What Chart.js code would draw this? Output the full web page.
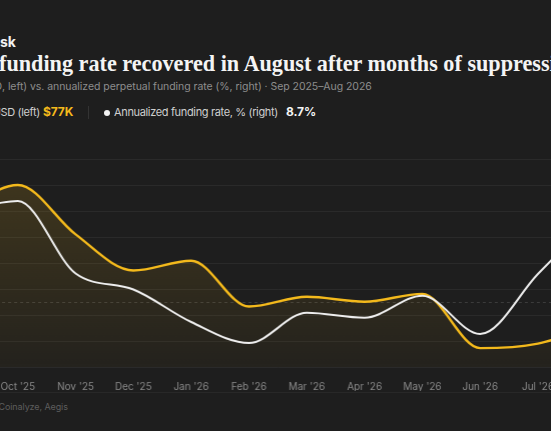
<!DOCTYPE html>
<html>
<head>
<meta charset="utf-8">
<script src="https://cdn.jsdelivr.net/npm/chart.js@4.4.1/dist/chart.umd.min.js"></script>
<style>
    html, body { margin: 0; padding: 0; width: 551px; height: 431px; overflow: hidden; background: #1e1e1e; }
    body { position: relative; font-family: Inter, "Noto Sans", sans-serif; }
    .ln { position: absolute; white-space: nowrap; }
    /* hidden head of a cropped line, kept as text but pushed off the left edge */
    .pre { position: absolute; right: 100%; top: 0; white-space: pre; }
    #brand { top: 35px; left: 0; font-size: 14px; line-height: 14px; font-weight: 700; color: #f2f2f2; }
    #title { top: 51.5px; left: -1px; font-family: "Liberation Serif", serif; font-size: 22.2px; line-height: 24px; font-weight: 700; color: #f4f4f4; }
    #sub { top: 79.7px; left: 2px; font-size: 10.5px; line-height: 13px; letter-spacing: -0.05px; color: #8d8d8d; }
    .leg { top: 105.3px; font-size: 11px; line-height: 14px; letter-spacing: -0.35px; color: #cfcfcf; }
    .val { font-weight: 700; font-size: 12px; letter-spacing: -0.1px; top: 104.8px; }
    #sep { position: absolute; left: 88px; top: 106px; width: 1px; height: 13px; background: #333; }
    #dot { position: absolute; left: 103.5px; top: 110px; width: 6px; height: 6px; border-radius: 50%; background: #f2f2f2; }
    #chart-wrap { position: absolute; left: -79.7px; top: 151px; width: 714.7px; height: 240px; }
    #rule { position: absolute; left: 0; top: 392px; width: 551px; height: 1px; background: #282828; }
    #source { top: 400.5px; left: -1.5px; font-size: 9px; line-height: 11px; letter-spacing: -0.1px; color: #5d5d5d; }
</style>
</head>
<body>
<div class="ln" id="brand"><span class="pre">Aegis Risk De</span>sk</div>
<div class="ln" id="title"><span class="pre">Bitcoin </span>funding rate recovered in August after months of suppression</div>
<div class="ln" id="sub"><span class="pre">BTC price (USD</span>, left) vs. annualized perpetual funding rate (%, right) · Sep 2025–Aug 2026</div>
<div class="ln leg" style="left:0.5px"><span class="pre">BTC price, U</span>SD (left)</div>
<div class="ln leg val" style="left:43px;color:#f3b91c">$77K</div>
<div id="sep"></div>
<div id="dot"></div>
<div class="ln leg" style="left:114px">Annualized funding rate, % (right)</div>
<div class="ln leg val" style="left:286px;color:#f4f4f4">8.7%</div>
<div id="chart-wrap"><canvas id="funding-chart"></canvas></div>
<div id="rule"></div>
<div class="ln" id="source"><span class="pre">Source: </span>Coinalyze, Aegis</div>

<script>
// Monthly BTC price vs annualized perp funding rate, Sep 2025 - Aug 2026
const months = ["Sep '25", "Oct '25", "Nov '25", "Dec '25", "Jan '26", "Feb '26",
                "Mar '26", "Apr '26", "May '26", "Jun '26", "Jul '26", "Aug '26"];
const btcPriceK = [112, 120, 104.8, 93.7, 96.7, 82.6, 85.6, 84.1, 86.5, 69.8, 71.2, 77];
const fundingRatePct = [9.0, 10.1, 2.85, 1.25, -2.0, -4.1, -1.07, -1.57, 0.63, -3.2, 2.8, 8.7];
const priceTicksK = [64, 72, 80, 88, 96, 104, 112, 120, 128];
const rateRange = [-6.5, 14.3];

const GOLD = '#f3b91c';
const WHITE = '#ededed';

// dashed line at 0% on the right axis
const zeroLine = {
    id: 'zeroLine',
    beforeDatasetsDraw(chart) {
        const { ctx, chartArea, scales } = chart;
        const y = Math.round(scales.y1.getPixelForValue(0)) + 0.5;
        ctx.save();
        ctx.strokeStyle = 'rgba(255,255,255,0.13)';
        ctx.lineWidth = 1;
        ctx.setLineDash([3, 3]);
        ctx.beginPath();
        ctx.moveTo(chartArea.left, y);
        ctx.lineTo(chartArea.right, y);
        ctx.stroke();
        ctx.restore();
    }
};

function goldFill(context) {
    const { ctx, chartArea } = context.chart;
    if (!chartArea) return 'rgba(243,185,28,0.08)';
    const g = ctx.createLinearGradient(0, chartArea.top, 0, chartArea.bottom);
    g.addColorStop(0, 'rgba(243,185,28,0.17)');
    g.addColorStop(1, 'rgba(243,185,28,0.03)');
    return g;
}

const chart = new Chart(document.getElementById('funding-chart'), {
    type: 'line',
    data: {
        labels: months,
        datasets: [
            {
                label: 'BTC price, USD (left)',
                data: btcPriceK,
                yAxisID: 'y',
                borderColor: GOLD,
                borderWidth: 2.4,
                backgroundColor: goldFill,
                fill: 'start',
                pointRadius: 0,
                cubicInterpolationMode: 'monotone',
                order: 2
            },
            {
                label: 'Annualized funding rate, % (right)',
                data: fundingRatePct,
                yAxisID: 'y1',
                borderColor: WHITE,
                borderWidth: 2,
                fill: false,
                pointRadius: 0,
                cubicInterpolationMode: 'monotone',
                order: 1
            }
        ]
    },
    options: {
        responsive: true,
        maintainAspectRatio: false,
        animation: false,
        layout: { padding: { left: 40, right: 40, top: 8, bottom: 0 } },
        scales: {
            x: {
                type: 'category',
                offset: false,
                grid: { display: false },
                border: { display: false },
                ticks: {
                    color: '#8a8a8a',
                    font: { family: 'Inter', size: 10 },
                    padding: 6,
                    maxRotation: 0,
                    autoSkip: false
                },
                afterFit(scale) { scale.height = 24; }
            },
            y: {
                position: 'left',
                min: priceTicksK[0],
                max: priceTicksK[priceTicksK.length - 1],
                afterBuildTicks(scale) { scale.ticks = priceTicksK.map(v => ({ value: v })); },
                ticks: { display: false },
                grid: { color: 'rgba(255,255,255,0.055)', drawTicks: false },
                border: { display: false },
                afterFit(scale) { scale.width = 0; }
            },
            y1: {
                position: 'right',
                display: false,
                min: rateRange[0],
                max: rateRange[1]
            }
        },
        plugins: {
            legend: { display: false },
            tooltip: { enabled: false }
        }
    },
    plugins: [zeroLine]
});
</script>
</body>
</html>
